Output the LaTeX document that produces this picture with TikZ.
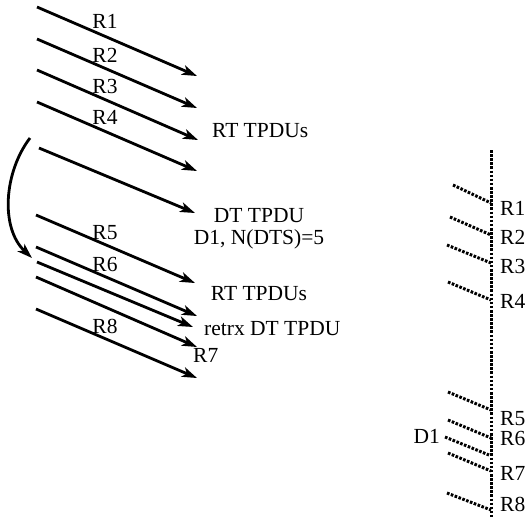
\documentclass[tikz,border=0pt]{standalone}
\usepackage{fontspec}
\setmainfont{Liberation Serif}
\usetikzlibrary{arrows.meta}
\begin{document}
\begin{tikzpicture}[x=1pt,y=-1pt,
  msg/.style={line width=2.8pt,-{Stealth[length=15pt,width=10pt,inset=4pt]}},
  dot/.style={line width=3pt,dash pattern=on 2.6pt off 1.5pt},
  lbl/.style={inner sep=0pt,anchor=base,font=\fontsize{21.5}{26}\selectfont},
  lbll/.style={lbl,anchor=base west}]
\useasboundingbox (0,0) rectangle (526,517);
% left side arrows
\coordinate (s1) at (37,7);   \coordinate (e1) at (197,76);
\coordinate (s2) at (37,39);  \coordinate (e2) at (197,108);
\coordinate (s3) at (37,70);  \coordinate (e3) at (198,140);
\coordinate (s4) at (37,102); \coordinate (e4) at (197,171);
\coordinate (s5) at (39,148); \coordinate (e5) at (195,213);
\coordinate (s6) at (36,215); \coordinate (e6) at (195,283);
\coordinate (s7) at (36,247); \coordinate (e7) at (197,316);
\coordinate (s8) at (37,262); \coordinate (e8) at (193,327);
\coordinate (s9) at (36,277); \coordinate (e9) at (197,347);
\coordinate (s10) at (36,309); \coordinate (e10) at (197,378);
\foreach \i in {1,...,10} \draw[msg] (s\i) -- (e\i);
\coordinate (cs) at (30,138); \coordinate (ce) at (32,258);
\draw[msg] (cs) .. controls (4,172) and (0,228) .. (ce);
% left labels
\node[lbl] (l1) at (105,28) {R1};
\node[lbl] (l2) at (105,62) {R2};
\node[lbl] (l3) at (105,93) {R3};
\node[lbl] (l4) at (105,124) {R4};
\node[lbl] (l5) at (105,239) {R5};
\node[lbl] (l6) at (105,271) {R6};
\node[lbl] (l8) at (105,333) {R8};
\node[lbll] (l7) at (193,362) {R7};
\node[lbll] (t1) at (212,137) {RT TPDUs};
\node[lbl] (t2) at (259,222) {DT TPDU};
\node[lbl] (t3) at (259,244) {D1, N(DTS)=5};
\node[lbl] (t4) at (259,300) {RT TPDUs};
\node[lbll] (t5) at (204,335) {retrx DT TPDU};
% right side
\coordinate (vt) at (491,150); \coordinate (vb) at (491,517);
\draw[dot] (vt) -- (vb);
\coordinate (a1) at (453,185); \coordinate (b1) at (491,203);
\coordinate (a2) at (450,217); \coordinate (b2) at (491,235);
\coordinate (a3) at (447,245); \coordinate (b3) at (491,263);
\coordinate (a4) at (448,282); \coordinate (b4) at (491,300);
\coordinate (a5) at (448,392); \coordinate (b5) at (491,410);
\coordinate (a6) at (448,420); \coordinate (b6) at (491,438);
\coordinate (a7) at (445,437); \coordinate (b7) at (489,455);
\coordinate (a8) at (448,453); \coordinate (b8) at (491,471);
\coordinate (a9) at (447,493); \coordinate (b9) at (491,510);
\foreach \i in {1,...,9} \draw[dot] (a\i) -- (b\i);
\node[lbll] (r1) at (500,215) {R1};
\node[lbll] (r2) at (500,244) {R2};
\node[lbll] (r3) at (500,273) {R3};
\node[lbll] (r4) at (500,308) {R4};
\node[lbll] (r5) at (500,425) {R5};
\node[lbll] (r6) at (500,445) {R6};
\node[lbll] (r7) at (500,480) {R7};
\node[lbll] (r8) at (500,511) {R8};
\node[lbl,anchor=base east] (d1) at (440,443) {D1};
\end{tikzpicture}
\end{document}
